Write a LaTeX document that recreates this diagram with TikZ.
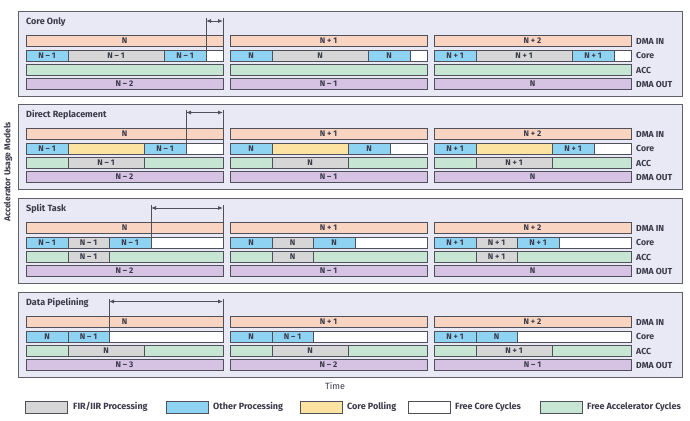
\documentclass[tikz,border=0pt]{standalone}
\usepackage{fontspec}
\setmainfont{Fira Sans}
\usetikzlibrary{arrows.meta}
\definecolor{panelbg}{HTML}{E9E9F5}
\definecolor{panelln}{HTML}{5F6068}
\definecolor{segln}{HTML}{50505A}
\definecolor{cpeach}{HTML}{F9D4C0}
\definecolor{cblue}{HTML}{8FD3F2}
\definecolor{cgray}{HTML}{D6D6D6}
\definecolor{cyellow}{HTML}{FDE3A2}
\definecolor{cgreen}{HTML}{C7E5D3}
\definecolor{cpurple}{HTML}{D6C2E2}
\definecolor{txt}{HTML}{3A3A4A}
\tikzset{
  panel/.style={draw=panelln, fill=panelbg, line width=0.9pt},
  seg/.style={draw=segln, line width=0.75pt, inner sep=0pt, outer sep=0pt,
    minimum height=11pt, font=\fontsize{8.2}{8.5}\selectfont\bfseries, text=txt},
  dmain/.style={seg, fill=cpeach},
  other/.style={seg, fill=cblue},
  fir/.style={seg, fill=cgray},
  poll/.style={seg, fill=cyellow},
  free/.style={seg, fill=white},
  acc/.style={seg, fill=cgreen},
  dmaout/.style={seg, fill=cpurple},
  title/.style={anchor=west, inner sep=0pt, font=\fontsize{9}{10}\selectfont\bfseries, text=txt},
  rowlab/.style={anchor=west, inner sep=0pt, font=\fontsize{8.7}{9}\selectfont\bfseries, text=txt},
  marker/.style={draw=segln, line width=0.8pt},
  span/.style={draw=segln, line width=0.8pt, {Latex[length=5pt,width=4pt]}-{Latex[length=5pt,width=4pt]}},
  legbox/.style={draw=segln, line width=0.75pt, minimum width=42pt, minimum height=12pt, inner sep=0pt},
  legtxt/.style={anchor=west, inner sep=0pt, font=\fontsize{9}{10}\selectfont\bfseries, text=txt}
}
% style, name, x1, x2, ytop, text
\newcommand\sg[6]{\node[#1, minimum width={((#4)-(#3))*1pt}] (#2) at ({((#3)+(#4))/2},{(#5)+5.5}) {#6};}
% common rows: prefix, x0, top, in-text, out-text
\newcommand\ioRows[5]{%
  \sg{dmain}{#1in}{#2}{#2+197}{#3+24.5}{#4}
  \sg{dmaout}{#1out}{#2}{#2+197}{#3+67.5}{#5}}
% Core Only: prefix, x0, top, in, core, out
\newcommand\coreOnly[6]{%
  \ioRows{#1}{#2}{#3}{#4}{#6}
  \sg{other}{#1ca}{#2}{#2+42}{#3+39}{#5}
  \sg{fir}{#1cb}{#2+42}{#2+138}{#3+39}{#5}
  \sg{other}{#1cc}{#2+138}{#2+180}{#3+39}{#5}
  \sg{free}{#1cd}{#2+180}{#2+197}{#3+39}{}
  \sg{acc}{#1aa}{#2}{#2+197}{#3+53.5}{}}
% Direct Replacement
\newcommand\directRep[6]{%
  \ioRows{#1}{#2}{#3}{#4}{#6}
  \sg{other}{#1ca}{#2}{#2+42}{#3+39}{#5}
  \sg{poll}{#1cb}{#2+42}{#2+118}{#3+39}{}
  \sg{other}{#1cc}{#2+118}{#2+160}{#3+39}{#5}
  \sg{free}{#1cd}{#2+160}{#2+197}{#3+39}{}
  \sg{acc}{#1aa}{#2}{#2+42}{#3+53.5}{}
  \sg{fir}{#1ab}{#2+42}{#2+118}{#3+53.5}{#5}
  \sg{acc}{#1ac}{#2+118}{#2+197}{#3+53.5}{}}
% Split Task
\newcommand\splitTask[6]{%
  \ioRows{#1}{#2}{#3}{#4}{#6}
  \sg{other}{#1ca}{#2}{#2+42}{#3+39}{#5}
  \sg{fir}{#1cb}{#2+42}{#2+83}{#3+39}{#5}
  \sg{other}{#1cc}{#2+83}{#2+125}{#3+39}{#5}
  \sg{free}{#1cd}{#2+125}{#2+197}{#3+39}{}
  \sg{acc}{#1aa}{#2}{#2+42}{#3+53.5}{}
  \sg{fir}{#1ab}{#2+42}{#2+83}{#3+53.5}{#5}
  \sg{acc}{#1ac}{#2+83}{#2+197}{#3+53.5}{}}
% Data Pipelining: prefix, x0, top, in, core1, core2, acc, out
\newcommand\dataPipe[8]{%
  \ioRows{#1}{#2}{#3}{#4}{#8}
  \sg{other}{#1ca}{#2}{#2+42}{#3+39}{#5}
  \sg{other}{#1cb}{#2+42}{#2+83}{#3+39}{#6}
  \sg{free}{#1cc}{#2+83}{#2+197}{#3+39}{}
  \sg{acc}{#1aa}{#2}{#2+42}{#3+53.5}{}
  \sg{fir}{#1ab}{#2+42}{#2+118}{#3+53.5}{#7}
  \sg{acc}{#1ac}{#2+118}{#2+197}{#3+53.5}{}}
\newcommand\rowLabels[2]{%
  \node[rowlab] (#1lin) at (636,{#2+30}) {DMA IN};
  \node[rowlab] (#1lcore) at (636,{#2+44.5}) {Core};
  \node[rowlab] (#1lacc) at (636,{#2+59}) {ACC};
  \node[rowlab] (#1lout) at (636,{#2+73}) {DMA OUT};}
\begin{document}
\begin{tikzpicture}[x=1pt,y=-1pt]
\useasboundingbox[fill=white] (0,0) rectangle (690,420);
% panels
\node[panel, anchor=north west, minimum width=664pt, minimum height=85pt, inner sep=0pt] (pone) at (18,11) {};
\node[panel, anchor=north west, minimum width=664pt, minimum height=85pt, inner sep=0pt] (ptwo) at (18,104) {};
\node[panel, anchor=north west, minimum width=664pt, minimum height=85pt, inner sep=0pt] (pthree) at (18,198) {};
\node[panel, anchor=north west, minimum width=664pt, minimum height=85pt, inner sep=0pt] (pfour) at (18,292) {};
% titles
\node[title] (tone) at (26,22) {Core Only};
\node[title] (ttwo) at (26,115) {Direct Replacement};
\node[title] (tthree) at (26,209) {Split Task};
\node[title] (tfour) at (26,303) {Data Pipelining};
% panel 1
\coreOnly{aa}{26}{11}{N}{N – 1}{N – 2}
\coreOnly{ab}{230}{11}{N + 1}{N}{N – 1}
\coreOnly{ac}{434}{11}{N + 2}{N + 1}{N}
\rowLabels{a}{11}
% panel 2
\directRep{ba}{26}{104}{N}{N – 1}{N – 2}
\directRep{bb}{230}{104}{N + 1}{N}{N – 1}
\directRep{bc}{434}{104}{N + 2}{N + 1}{N}
\rowLabels{b}{104}
% panel 3
\splitTask{ca}{26}{198}{N}{N – 1}{N – 2}
\splitTask{cb}{230}{198}{N + 1}{N}{N – 1}
\splitTask{cc}{434}{198}{N + 2}{N + 1}{N}
\rowLabels{c}{198}
% panel 4
\dataPipe{da}{26}{292}{N}{N}{N – 1}{N}{N – 3}
\dataPipe{db}{230}{292}{N + 1}{N}{N – 1}{N}{N – 2}
\dataPipe{dc}{434}{292}{N + 2}{N + 1}{N}{N + 1}{N – 1}
\rowLabels{d}{292}
% free-cycle markers
\coordinate (amL) at (206,18); \coordinate (amR) at (223,18);
\coordinate (aaL) at (206,21); \coordinate (aaR) at (223,21);
\draw[marker] (amL) -- (aacd.south west);
\draw[marker] (amR) -- (aacd.south east);
\draw[span] (aaL) -- (aaR);
\coordinate (bmL) at (186,110); \coordinate (bmR) at (223,110);
\coordinate (baL) at (186,112.5); \coordinate (baR) at (223,112.5);
\draw[marker] (bmL) -- (bacd.south west);
\draw[marker] (bmR) -- (bacd.south east);
\draw[span] (baL) -- (baR);
\coordinate (cmL) at (151,205); \coordinate (cmR) at (223,205);
\coordinate (caL) at (151,208); \coordinate (caR) at (223,208);
\draw[marker] (cmL) -- (cacd.south west);
\draw[marker] (cmR) -- (cacd.south east);
\draw[span] (caL) -- (caR);
\coordinate (dmL) at (109,299); \coordinate (dmR) at (223,299);
\coordinate (daL) at (109,301.5); \coordinate (daR) at (223,301.5);
\draw[marker] (dmL) -- (dacc.south west);
\draw[marker] (dmR) -- (dacc.south east);
\draw[span] (daL) -- (daR);
% axis labels
\node[rotate=90, inner sep=0pt, font=\fontsize{8.5}{9}\selectfont\bfseries, text=txt] (yax) at (8,172) {Accelerator Usage Models};
\node[inner sep=0pt, font=\fontsize{9}{10}\selectfont, text=txt] (xax) at (335,386) {Time};
% legend
\node[legbox, fill=cgray] (lg1) at (46,407) {};
\node[legtxt] (lt1) at (73,407) {FIR/IIR Processing};
\node[legbox, fill=cblue] (lg2) at (187,407) {};
\node[legtxt] (lt2) at (213,407) {Other Processing};
\node[legbox, fill=cyellow] (lg3) at (321,407) {};
\node[legtxt] (lt3) at (347,407) {Core Polling};
\node[legbox, fill=white] (lg4) at (429,407) {};
\node[legtxt] (lt4) at (455,407) {Free Core Cycles};
\node[legbox, fill=cgreen] (lg5) at (561,407) {};
\node[legtxt] (lt5) at (587,407) {Free Accelerator Cycles};
\end{tikzpicture}
\end{document}
